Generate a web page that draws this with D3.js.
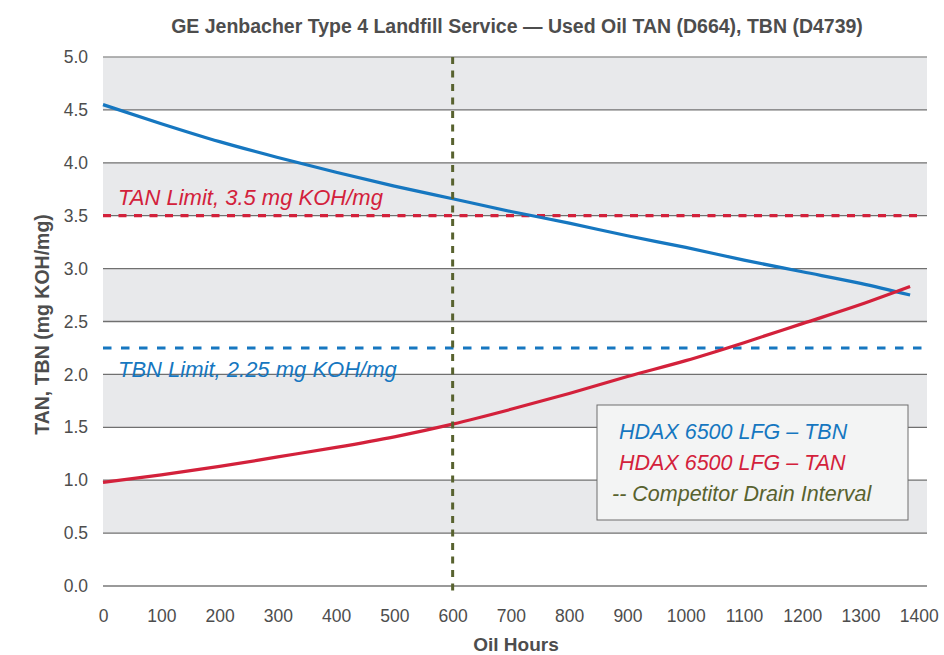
<!DOCTYPE html>
<html>
<head>
<meta charset="utf-8">
<script src="https://cdn.jsdelivr.net/npm/d3@7"></script>
<style>
  body { margin: 0; background: #fff; }
  text { font-family: "Liberation Sans", Arial, sans-serif; }
</style>
</head>
<body>
<div id="chart"></div>
<script>
// data
var hours = [0, 100, 200, 300, 400, 500, 600, 700, 800, 900, 1000, 1100, 1200, 1300, 1385];
var tbn = [4.55, 4.37, 4.20, 4.05, 3.91, 3.78, 3.66, 3.54, 3.43, 3.31, 3.20, 3.08, 2.97, 2.86, 2.75];
var tan = [0.98, 1.05, 1.13, 1.22, 1.31, 1.41, 1.53, 1.67, 1.82, 1.98, 2.13, 2.30, 2.48, 2.66, 2.83];
var xTicks = [0, 100, 200, 300, 400, 500, 600, 700, 800, 900, 1000, 1100, 1200, 1300, 1400];
var yTicks = [0, 0.5, 1, 1.5, 2, 2.5, 3, 3.5, 4, 4.5, 5];
var tanLimit = 3.5, tbnLimit = 2.25, drainInterval = 600;
var legendItems = ["HDAX 6500 LFG \u2013 TBN", "HDAX 6500 LFG \u2013 TAN", "-- Competitor Drain Interval"];

var width = 944, height = 655;
var blue = "#1677c0", red = "#d3213b", olive = "#58622f";

var svg = d3.select("#chart").append("svg")
    .attr("width", width)
    .attr("height", height);

var x = d3.scaleLinear().domain([0, 1414]).range([103, 927]);
var y = d3.scaleLinear().domain([0, 5]).range([586, 57]);

// alternating bands
var bands = yTicks.slice(0, -1).filter(function(d, i) { return i % 2 == 1; });
svg.selectAll("rect.band").data(bands).enter().append("rect")
    .attr("class", "band")
    .attr("x", x(0))
    .attr("width", x(1414) - x(0))
    .attr("y", function(d) { return y(d + 0.5); })
    .attr("height", function(d) { return y(d) - y(d + 0.5); })
    .attr("fill", "#e8e9eb");

// gridlines
svg.selectAll("line.grid").data(yTicks).enter().append("line")
    .attr("x1", x(0)).attr("x2", x(1414))
    .attr("y1", function(d) { return y(d); })
    .attr("y2", function(d) { return y(d); })
    .attr("stroke", function(d) { return d == 0 || d == 5 ? "#9a9a9a" : "#707070"; })
    .attr("stroke-width", function(d) { return d == 0 ? 2 : 1.3; });

// y axis labels
var yAxis = d3.axisLeft(y).tickValues(yTicks).tickFormat(d3.format(".1f")).tickSize(0).tickPadding(15);
svg.append("g").attr("transform", "translate(" + x(0) + ",0)").call(yAxis)
    .call(function(g) { g.select(".domain").remove(); })
    .selectAll("text")
    .attr("font-size", 17.5).attr("fill", "#4d4d4d")
    .style("font-family", "'Liberation Sans', Arial, sans-serif");

// x axis labels
var xAxis = d3.axisBottom(x).tickValues(xTicks).tickFormat(d3.format("d")).tickSize(0).tickPadding(24);
svg.append("g").attr("transform", "translate(0," + y(0) + ")").call(xAxis)
    .call(function(g) { g.select(".domain").remove(); })
    .selectAll("text")
    .attr("font-size", 17.5).attr("fill", "#4d4d4d")
    .style("font-family", "'Liberation Sans', Arial, sans-serif");

// limit lines
svg.append("line")
    .attr("x1", x(0)).attr("x2", x(1405))
    .attr("y1", y(tanLimit)).attr("y2", y(tanLimit))
    .attr("stroke", red).attr("stroke-width", 3.2)
    .attr("stroke-dasharray", "8,7.5");
svg.append("line")
    .attr("x1", x(0)).attr("x2", x(1405))
    .attr("y1", y(tbnLimit)).attr("y2", y(tbnLimit))
    .attr("stroke", blue).attr("stroke-width", 3)
    .attr("stroke-dasharray", "8.5,9.5");

svg.append("text")
    .attr("x", 118).attr("y", y(tanLimit) - 11)
    .attr("font-size", 22).attr("font-style", "italic").attr("fill", red)
    .text("TAN Limit, 3.5 mg KOH/mg");
svg.append("text")
    .attr("x", 118).attr("y", y(tbnLimit) + 29)
    .attr("font-size", 22).attr("font-style", "italic").attr("fill", blue)
    .text("TBN Limit, 2.25 mg KOH/mg");

// curves
var line = function(vals) {
  return d3.line()
    .x(function(d, i) { return x(hours[i]); })
    .y(function(d) { return y(d); })
    .curve(d3.curveMonotoneX)(vals);
};
svg.append("path").attr("d", line(tbn))
    .attr("fill", "none").attr("stroke", blue).attr("stroke-width", 3.2);
svg.append("path").attr("d", line(tan))
    .attr("fill", "none").attr("stroke", red).attr("stroke-width", 3.2);

// competitor drain interval
svg.append("line")
    .attr("x1", x(drainInterval)).attr("x2", x(drainInterval))
    .attr("y1", y(5)).attr("y2", y(0) + 5)
    .attr("stroke", olive).attr("stroke-width", 3)
    .attr("stroke-dasharray", "7,6.5");

// legend
var lg = svg.append("g").attr("transform", "translate(597,405)");
lg.append("rect")
    .attr("width", 311).attr("height", 115)
    .attr("fill", "#f3f4f4").attr("stroke", "#6e6e6e").attr("stroke-width", 1);
lg.selectAll("text").data(legendItems).enter().append("text")
    .attr("x", function(d, i) { return i == 2 ? 15 : 22; })
    .attr("y", function(d, i) { return 34 + i * 31; })
    .attr("font-size", 21.5).attr("font-style", "italic")
    .attr("fill", function(d, i) { return [blue, red, olive][i]; })
    .text(function(d) { return d; });

// titles
svg.append("text")
    .attr("x", 517).attr("y", 33)
    .attr("text-anchor", "middle")
    .attr("font-size", 19.5).attr("font-weight", "bold").attr("fill", "#4d4d4d")
    .text("GE Jenbacher Type 4 Landfill Service \u2014 Used Oil TAN (D664), TBN (D4739)");

svg.append("text")
    .attr("x", 516).attr("y", 651)
    .attr("text-anchor", "middle")
    .attr("font-size", 19).attr("font-weight", "bold").attr("fill", "#4d4d4d")
    .text("Oil Hours");

svg.append("text")
    .attr("transform", "translate(49," + (y(2.5) + 3) + ") rotate(-90)")
    .attr("text-anchor", "middle")
    .attr("font-size", 19.5).attr("font-weight", "bold").attr("fill", "#4d4d4d")
    .text("TAN, TBN (mg KOH/mg)");
</script>
</body>
</html>
